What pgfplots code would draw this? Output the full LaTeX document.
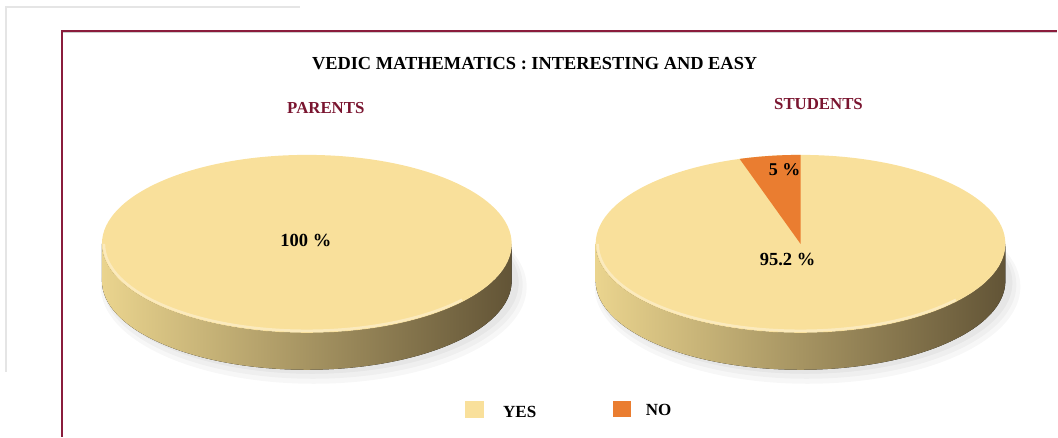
\documentclass[border=0pt]{standalone}
\usepackage{pgfplots}
\usepackage{pgfplotstable}
\pgfplotsset{compat=1.18}
\usepackage{fontspec}
\setmainfont{Liberation Serif}
\definecolor{yesC}{HTML}{F9E09B}
\definecolor{noC}{HTML}{EA7D30}
\definecolor{frameC}{HTML}{8A1C3C}
\definecolor{headC}{HTML}{7A1530}
\definecolor{sideL}{HTML}{EAD48E}
\definecolor{sideM}{HTML}{BDA666}
\definecolor{sideR}{HTML}{625436}

\pgfplotstableread{
group yes no
Parents 100 0
Students 95.2 4.8
}\piedata

% #1 = centre x, #2 = angle where the NO slice ends
\newcommand\pie[2]{%
  \fill[black,opacity=0.03] (axis cs:#1+7,150) ellipse[x radius=213pt,y radius=97pt];
  \fill[black,opacity=0.03] (axis cs:#1+6,152) ellipse[x radius=210pt,y radius=94pt];
  \fill[black,opacity=0.04] (axis cs:#1+5,154) ellipse[x radius=207pt,y radius=91pt];
  \fill[left color=sideL,middle color=sideM,right color=sideR]
    (axis cs:#1-205,193) -- (axis cs:#1-205,156)
    arc[start angle=180,end angle=360,x radius=205pt,y radius=89pt]
    -- (axis cs:#1+205,193)
    arc[start angle=0,end angle=-180,x radius=205pt,y radius=89pt] -- cycle;
  \fill[yesC] (axis cs:#1,193) ellipse[x radius=205pt,y radius=89pt];
  \ifdim #2pt>90.01pt
  \fill[noC] (axis cs:#1,193) -- ++(90:205pt and 89pt)
    arc[start angle=90,end angle=#2,x radius=205pt,y radius=89pt] -- cycle;
  \fi
  \draw[white,opacity=0.35,line width=2.5pt] (axis cs:#1-203,193)
    arc[start angle=180,end angle=320,x radius=203pt,y radius=87pt];
}

\begin{document}
\begin{tikzpicture}
\pgfplotstablegetelem{0}{no}\of\piedata
\pgfmathsetmacro\endA{90+3.6*\pgfplotsretval}
\pgfplotstablegetelem{1}{no}\of\piedata
\pgfmathsetmacro\endB{90+3.6*\pgfplotsretval}
\begin{axis}[width=1058pt,height=437pt,scale only axis,
  xmin=0,xmax=1058,ymin=0,ymax=437,hide axis,clip=false]
\path (axis cs:0,0) rectangle (axis cs:1058,437);
% page frame
\draw[gray!20,line width=1.5pt] (axis cs:6,65) -- (axis cs:6,430) -- (axis cs:300,430);
\draw[gray!40,line width=1pt] (axis cs:62,404.5) -- (axis cs:1058,404.5);
\draw[frameC,line width=1.3pt] (axis cs:62,0) -- (axis cs:62,406) -- (axis cs:1058,406);
% pies
\pie{307}{\endA}
\pie{801}{\endB}
% texts
\node[font=\bfseries\fontsize{18.4}{22}\selectfont] at (axis cs:535,373) {VEDIC MATHEMATICS : INTERESTING AND EASY};
\node[font=\bfseries\fontsize{16.8}{20}\selectfont,text=headC] at (axis cs:326,329) {PARENTS};
\node[font=\bfseries\fontsize{16.8}{20}\selectfont,text=headC] at (axis cs:819,333) {STUDENTS};
\node[font=\bfseries\fontsize{18.5}{22}\selectfont] at (axis cs:306,196) {100 \%};
\node[font=\bfseries\fontsize{18.5}{22}\selectfont] at (axis cs:788,177) {95.2 \%};
\node[font=\bfseries\fontsize{18}{22}\selectfont] at (axis cs:785,267) {5 \%};
% legend
\fill[yesC] (axis cs:465,19) rectangle (axis cs:484,36);
\node[font=\bfseries\fontsize{17}{20}\selectfont] at (axis cs:520,25) {YES};
\fill[noC] (axis cs:613,20) rectangle (axis cs:631,36);
\node[font=\bfseries\fontsize{17}{20}\selectfont] at (axis cs:659,27) {NO};
\end{axis}
\end{tikzpicture}
\end{document}
